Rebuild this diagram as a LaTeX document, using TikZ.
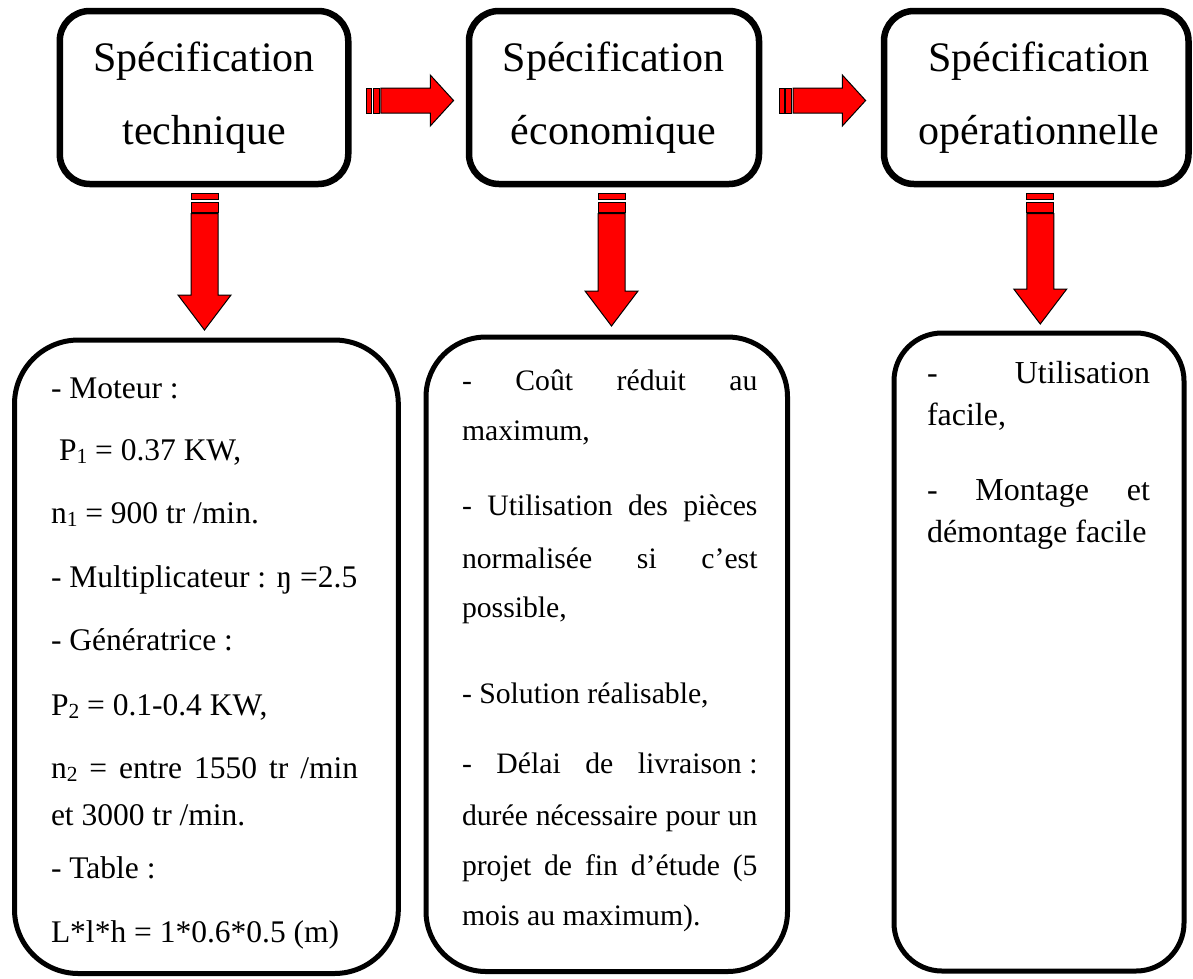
\documentclass[tikz,border=0pt]{standalone}
\usepackage{fontspec}
\setmainfont{Liberation Serif}
% small lowered index, e.g. P_1
\newcommand\lowidx[1]{\raisebox{-0.1em}{\fontsize{21.5}{21.5}\selectfont #1}}
\begin{document}
\begin{tikzpicture}[x=1pt,y=-1pt,
  topbox/.style={draw=black, line width=6.5pt, rounded corners=30pt, inner sep=0pt, outer sep=0pt},
  lowbox/.style={draw=black, line width=5pt, inner sep=0pt, outer sep=0pt},
  title/.style={anchor=base, inner sep=0pt, outer sep=0pt, font=\fontsize{42}{42}\selectfont},
  txt/.style={anchor=base west, inner sep=0pt, outer sep=0pt},
  fa/.style={txt, font=\fontsize{31.5}{31.5}\selectfont},
  fb/.style={txt, font=\fontsize{29.7}{29.7}\selectfont},
  fc/.style={txt, font=\fontsize{32}{32}\selectfont},
  arrowpart/.style={fill=red, draw=black, line width=1pt},
  pics/stripedright/.style={code={
    \filldraw[arrowpart] (0,-12.5) rectangle (5,12.5);
    \filldraw[arrowpart] (6.3,-12.5) rectangle (12.3,12.5);
    \filldraw[arrowpart] (14,-12.5) -- (63.3,-12.5) -- (63.3,-25.5) -- (86.6,0)
      -- (63.3,25.5) -- (63.3,12.5) -- (14,12.5) -- cycle;
  }},
  pics/stripeddown/.style={code={
    \filldraw[arrowpart] (-13.5,0) rectangle (13.5,6.5);
    \filldraw[arrowpart] (-13.5,9) rectangle (13.5,19);
    \filldraw[arrowpart] (-13.5,20.5) -- (-13.5,#1-35) -- (-26.5,#1-35) -- (0,#1)
      -- (26.5,#1-35) -- (13.5,#1-35) -- (13.5,20.5) -- cycle;
  }},
]
\useasboundingbox (0,0) rectangle (1193,978);

% ---- top row ----
\node[topbox, minimum width=288.5pt, minimum height=173pt] (t1) at (204,97.5) {};
\node[topbox, minimum width=290pt, minimum height=173pt] (t2) at (614,97.5) {};
\node[topbox, minimum width=304.5pt, minimum height=173pt] (t3) at (1036.25,97.5) {};

\node[title] (t1a) at (204,71) {Spécification};
\node[title] (t1b) at (204,144) {technique};
\node[title] (t2a) at (613.5,71) {Spécification};
\node[title] (t2b) at (613.5,144) {économique};
\node[title] (t3a) at (1039,71) {Spécification};
\node[title] (t3b) at (1039,144) {opérationnelle};

% ---- bottom row ----
\node[lowbox, rounded corners=64pt, minimum width=383.8pt, minimum height=633.5pt] (b1) at (206.4,656.75) {};
\node[lowbox, rounded corners=60pt, minimum width=361.5pt, minimum height=634.5pt] (b2) at (606.75,654.25) {};
\node[lowbox, rounded corners=48pt, minimum width=290pt, minimum height=638pt] (b3) at (1039,652) {};

% ---- striped arrows ----
\coordinate (h1) at ([xshift=18.7pt,yshift=-3pt]t1.east);
\coordinate (h2) at ([xshift=20pt,yshift=-3pt]t2.east);
\pic at (h1) {stripedright};
\pic at (h2) {stripedright};

\coordinate (v1) at ([xshift=0.5pt,yshift=-9pt]t1.south);
\coordinate (v2) at ([xshift=-2.5pt,yshift=-9pt]t2.south);
\coordinate (v3) at ([xshift=4pt,yshift=-9pt]t3.south);
\pic at (v1) {stripeddown=137};
\pic at (v2) {stripeddown=133};
\pic at (v3) {stripeddown=131};

% ---- technical specification ----
\node[fa] (a1) at (51,398) {- Moteur :};
\node[fa] (a2) at (59,460) {P\lowidx{1} = 0.37 KW,};
\node[fa] (a3) at (51,523) {n\lowidx{1} = 900 tr /min.};
\node[fa] (a4) at (51,587) {- Multiplicateur : ŋ =2.5};
\node[fa] (a5) at (51,650) {- Génératrice :};
\node[fa] (a6) at (51,715) {P\lowidx{2} = 0.1-0.4 KW,};
\node[fa] (a7) at (51,778) {\makebox[307pt][s]{n\lowidx{2} = entre 1550 tr /min}};
\node[fa] (a8) at (51,825) {et 3000 tr /min.};
\node[fa] (a9) at (51,878) {- Table :};
\node[fa] (a10) at (51,942) {L*l*h = 1*0.6*0.5 (m)};

% ---- economic specification ----
\node[fb] (e1) at (462,390) {\makebox[295.5pt][s]{- Coût réduit au}};
\node[fb] (e2) at (462,440) {maximum,};
\node[fb] (e3) at (462,515) {\makebox[295.5pt][s]{- Utilisation des pièces}};
\node[fb] (e4) at (462,568) {\makebox[295.5pt][s]{normalisée si c’est}};
\node[fb] (e5) at (462,617) {possible,};
\node[fb] (e6) at (462,703) {- Solution réalisable,};
\node[fb] (e7) at (462,773) {\makebox[295.5pt][s]{- Délai de livraison\kern0.25em:}};
\node[fb] (e8) at (462,825) {\makebox[295.5pt][s]{durée nécessaire pour un}};
\node[fb] (e9) at (462,875) {\makebox[295.5pt][s]{projet de fin d’étude (5}};
\node[fb] (e10) at (462,925) {mois au maximum).};

% ---- operational specification ----
\node[fc] (o1) at (927,383) {\makebox[223pt][s]{- Utilisation}};
\node[fc] (o2) at (927,425) {facile,};
\node[fc] (o3) at (927,500) {\makebox[223pt][s]{- Montage et}};
\node[fc] (o4) at (927,542) {démontage facile};
\end{tikzpicture}
\end{document}
